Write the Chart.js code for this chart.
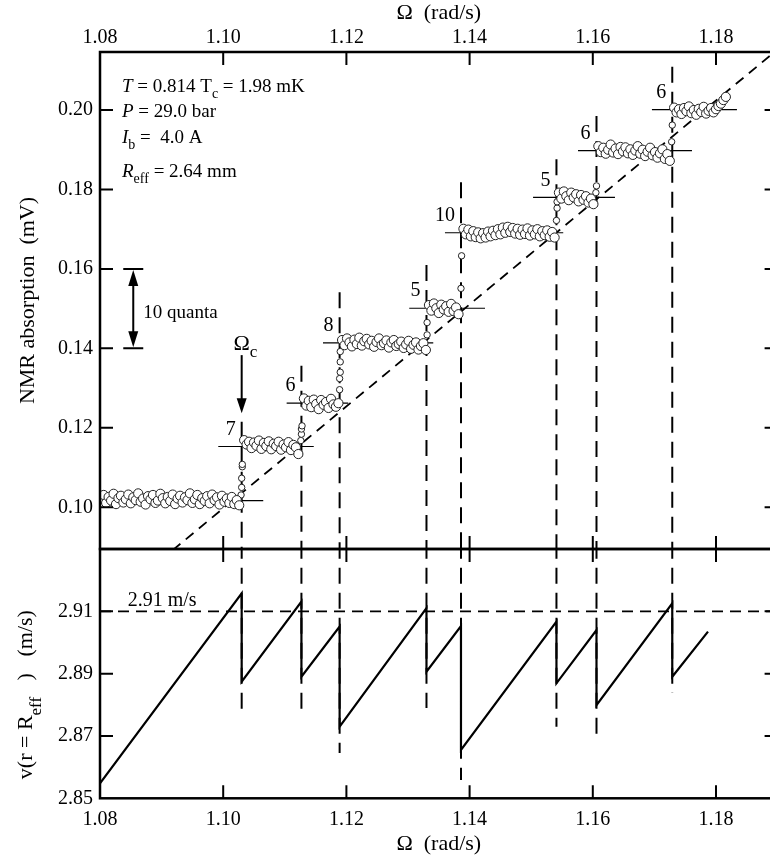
<!DOCTYPE html>
<html>
<head>
<meta charset="utf-8">
<title>Vortex steps</title>
<script src="https://cdn.jsdelivr.net/npm/chart.js@4.4.0/dist/chart.umd.min.js"></script>
<style>
  html, body { margin: 0; padding: 0; background: #fff; overflow: hidden; }
  #wrap { position: relative; width: 770px; height: 863px; overflow: hidden; }
  canvas { position: absolute; left: 0; }
  #nmrChart { top: 0; }
  #velChart { top: 540px; }
</style>
</head>
<body>
<div id="wrap">
  <canvas id="nmrChart" width="790" height="560"></canvas>
  <canvas id="velChart" width="790" height="323"></canvas>
</div>
<script>
// measured points on the plateaus: rotation Ω (rad/s) and NMR absorption (mV)
const omega = [
  1.0802,1.0806,1.0810,1.0814,1.0818,1.0822,1.0826,1.0830,1.0834,1.0838,
  1.0842,1.0846,1.0850,1.0854,1.0858,1.0862,1.0866,1.0870,1.0874,1.0878,
  1.0882,1.0886,1.0890,1.0894,1.0898,1.0902,1.0906,1.0910,1.0914,1.0918,
  1.0922,1.0926,1.0930,1.0934,1.0938,1.0942,1.0946,1.0950,1.0954,1.0958,
  1.0962,1.0966,1.0970,1.0974,1.0978,1.0982,1.0986,1.0990,1.0994,1.0998,
  1.1002,1.1006,1.1010,1.1014,1.1018,1.1022,1.1026,
  1.1034,1.1038,1.1042,1.1046,1.1050,1.1054,1.1058,1.1062,1.1066,1.1070,
  1.1074,1.1078,1.1082,1.1086,1.1090,1.1094,1.1098,1.1102,1.1106,1.1110,
  1.1114,1.1118,1.1122,
  1.1131,1.1135,1.1139,1.1143,1.1147,1.1151,1.1155,1.1159,1.1163,1.1167,
  1.1171,1.1175,1.1179,1.1183,1.1187,
  1.1193,1.1197,1.1201,1.1205,1.1209,1.1213,1.1217,1.1221,1.1225,1.1229,
  1.1233,1.1237,1.1241,1.1245,1.1249,1.1253,1.1257,1.1261,1.1265,1.1269,
  1.1273,1.1277,1.1281,1.1285,1.1289,1.1293,1.1297,1.1301,1.1305,1.1309,
  1.1313,1.1317,1.1321,1.1325,1.1329,
  1.1334,1.1338,1.1342,1.1346,1.1350,1.1354,1.1358,1.1362,1.1366,1.1370,
  1.1374,1.1378,1.1382,
  1.1390,1.1394,1.1398,1.1402,1.1406,1.1410,1.1414,1.1418,1.1422,1.1426,
  1.1430,1.1434,1.1438,1.1442,1.1446,1.1450,1.1454,1.1458,1.1462,1.1466,
  1.1470,1.1474,1.1478,1.1482,1.1486,1.1490,1.1494,1.1498,1.1502,1.1506,
  1.1510,1.1514,1.1518,1.1522,1.1526,1.1530,1.1534,1.1538,
  1.1545,1.1549,1.1553,1.1557,1.1561,1.1565,1.1569,1.1573,1.1577,1.1581,
  1.1585,1.1589,1.1593,1.1597,1.1601,
  1.1609,1.1613,1.1617,1.1621,1.1625,1.1629,1.1633,1.1637,1.1641,1.1645,
  1.1649,1.1653,1.1657,1.1661,1.1665,1.1669,1.1673,1.1677,1.1681,1.1685,
  1.1689,1.1693,1.1697,1.1701,1.1705,1.1709,1.1713,1.1717,1.1721,1.1725,
  1.1732,1.1736,1.1740,1.1744,1.1748,1.1752,1.1756,1.1760,1.1764,1.1768,
  1.1772,1.1776,1.1780,1.1784,1.1788,1.1792,1.1796,1.1800,1.1804,1.1808,
  1.1812,1.1816
];
const nmr = [
  0.1022,0.1031,0.1011,0.1026,0.1017,0.1034,0.1008,0.1023,0.1029,0.1012,
  0.1020,0.1032,0.1010,0.1025,0.1018,0.1035,0.1014,0.1022,0.1007,0.1028,
  0.1020,0.1031,0.1011,0.1017,0.1034,0.1023,0.1010,0.1026,0.1016,0.1032,
  0.1008,0.1022,0.1029,0.1012,0.1025,0.1018,0.1035,0.1011,0.1020,0.1031,
  0.1008,0.1023,0.1016,0.1028,0.1010,0.1032,0.1018,0.1025,0.1007,0.1029,
  0.1014,0.1022,0.1011,0.1026,0.1008,0.1018,0.1005,
  0.1169,0.1158,0.1165,0.1149,0.1163,0.1155,0.1168,0.1147,0.1162,0.1154,
  0.1166,0.1146,0.1160,0.1154,0.1165,0.1145,0.1158,0.1151,0.1164,0.1144,
  0.1157,0.1151,0.1134,
  0.1274,0.1256,0.1268,0.1252,0.1271,0.1260,0.1247,0.1270,0.1258,0.1265,
  0.1250,0.1273,0.1259,0.1253,0.1262,
  0.1421,0.1408,0.1425,0.1415,0.1405,0.1422,0.1411,0.1427,0.1407,0.1418,
  0.1424,0.1410,0.1419,0.1404,0.1416,0.1425,0.1408,0.1413,0.1420,0.1402,
  0.1415,0.1421,0.1406,0.1411,0.1417,0.1401,0.1410,0.1419,0.1399,0.1409,
  0.1415,0.1397,0.1406,0.1413,0.1396,
  0.1509,0.1495,0.1513,0.1501,0.1489,0.1510,0.1498,0.1506,0.1492,0.1512,
  0.1494,0.1503,0.1486,
  0.1701,0.1687,0.1699,0.1682,0.1695,0.1680,0.1692,0.1677,0.1690,0.1679,
  0.1694,0.1682,0.1696,0.1685,0.1700,0.1687,0.1704,0.1691,0.1706,0.1693,
  0.1703,0.1689,0.1701,0.1686,0.1699,0.1688,0.1702,0.1684,0.1697,0.1687,
  0.1700,0.1682,0.1695,0.1685,0.1697,0.1681,0.1693,0.1679,
  0.1792,0.1777,0.1795,0.1783,0.1773,0.1792,0.1780,0.1788,0.1770,0.1786,
  0.1774,0.1783,0.1767,0.1777,0.1763,
  0.1909,0.1894,0.1905,0.1890,0.1900,0.1913,0.1893,0.1903,0.1889,0.1907,
  0.1896,0.1906,0.1891,0.1901,0.1887,0.1898,0.1909,0.1890,0.1900,0.1884,
  0.1895,0.1905,0.1886,0.1894,0.1880,0.1891,0.1901,0.1877,0.1889,0.1872,
  0.2006,0.1994,0.2002,0.1990,0.2005,0.1997,0.2009,0.1992,0.2000,0.1988,
  0.2003,0.1995,0.2008,0.1991,0.1998,0.2005,0.1994,0.2002,0.2010,0.2016,
  0.2025,0.2033
];

// points recorded while the signal was still climbing after a jump
const riseOmega = [1.1029,1.1030,1.1030,1.1031,1.1031, 1.1126,1.1127,1.1127,1.1128,
  1.1189,1.1189,1.1190,1.1190,1.1190, 1.1331,1.1331, 1.1386,1.1387,
  1.1541,1.1542,1.1542, 1.1605,1.1606, 1.1728,1.1729];
const riseNmr = [0.1031,0.1050,0.1073,0.1102,0.1108, 0.1168,0.1184,0.1197,0.1205,
  0.1296,0.1324,0.1340,0.1366,0.1392, 0.1434,0.1465, 0.1551,0.1633,
  0.1722,0.1753,0.1769, 0.1792,0.1809, 0.1920,0.1962];

// plateau levels and the span of their marker lines
const levelNmr  = [0.1017, 0.1153, 0.1262, 0.1414, 0.1501, 0.1691, 0.1780, 0.1898, 0.2001];
const levelFrom = [1.0800, 1.0992, 1.1103, 1.1162, 1.1302, 1.1360, 1.1503, 1.1576, 1.1696];
const levelTo   = [1.1065, 1.1147, 1.1203, 1.1341, 1.1425, 1.1552, 1.1636, 1.1761, 1.1834];

// vortex entry jumps
const jumpOmega  = [1.1030, 1.1127, 1.1189, 1.1330, 1.1386, 1.1541, 1.1606, 1.1729];
const quanta     = [7, 6, 8, 5, 10, 5, 6, 6];
const dashTopNmr = [0.1215, 0.1356, 0.1541, 0.1610, 0.1818, 0.1876, 0.1985, 0.2109];
const dashEndV   = [2.8783, 2.8767, 2.8645, 2.8790, 2.8559, 2.8730, 2.8687, 2.8838];

// vortex-free line through the jump bottoms
const diagOmega = [1.0918, 1.1895];
const diagNmr   = [0.0892, 0.2146];

// Ω_c arrow and the 10-quanta scale bar
const arrowNmr = [0.1383, 0.1237];
const barOmega = 1.0854;
const barNmr   = [0.14, 0.16];

// flow velocity at r = R_eff (m/s)
const sawOmega = [1.0800, 1.1030, 1.1030, 1.1127, 1.1127, 1.1189, 1.1189, 1.1330, 1.1330,
  1.1386, 1.1386, 1.1541, 1.1541, 1.1606, 1.1606, 1.1729, 1.1729, 1.1787];
const sawV = [2.8548, 2.9158, 2.8874, 2.9131, 2.8890, 2.9051, 2.8730, 2.9110, 2.8906,
  2.9053, 2.8655, 2.9067, 2.8869, 2.9040, 2.8799, 2.9126, 2.8890, 2.9035];
const vCrit = 2.91;

const FAMILY = '"Liberation Serif", "Times New Roman", serif';
Chart.defaults.font.family = FAMILY;
Chart.defaults.color = '#000';

const onStep = (v, k) => Math.abs(v * k - Math.round(v * k)) < 1e-6;
const pts = (xs, ys) => xs.map((x, i) => ({x: x, y: ys[i]}));

function drawRich(ctx, x, y, runs, size, align, subShift) {
  const shift = subShift || size * 0.3;
  const fontOf = r => (r.it ? 'italic ' : '') + (r.sub ? Math.round(size * 0.75) : size) + 'px ' + FAMILY;
  let w = 0;
  runs.forEach(r => { ctx.font = fontOf(r); w += ctx.measureText(r.t).width; });
  let cx = align === 'center' ? x - w / 2 : (align === 'right' ? x - w : x);
  ctx.textAlign = 'left';
  runs.forEach(r => {
    ctx.font = fontOf(r);
    ctx.fillText(r.t, cx, r.sub ? y + shift : y);
    cx += ctx.measureText(r.t).width;
  });
}

// box frame with inward ticks on all four sides
function frameTicks(yMajor) {
  return {
    id: 'frameTicks',
    afterDraw(chart) {
      const ctx = chart.ctx, a = chart.chartArea;
      const xs = chart.scales.x, ys = chart.scales.y;
      ctx.save();
      ctx.strokeStyle = '#000';
      ctx.lineWidth = 2;
      ctx.beginPath();
      xs.ticks.forEach(t => {
        const px = xs.getPixelForValue(t.value);
        if (px <= a.left + 1 || px >= a.right - 1) return;
        const len = onStep(t.value, 50) ? 13 : 8;
        ctx.moveTo(px, a.top); ctx.lineTo(px, a.top + len);
        ctx.moveTo(px, a.bottom); ctx.lineTo(px, a.bottom - len);
      });
      ys.ticks.forEach(t => {
        const py = ys.getPixelForValue(t.value);
        if (py <= a.top + 1 || py >= a.bottom - 1) return;
        const len = yMajor(t.value) ? 13 : 8;
        ctx.moveTo(a.left, py); ctx.lineTo(a.left + len, py);
        ctx.moveTo(a.right, py); ctx.lineTo(a.right - len, py);
      });
      ctx.stroke();
      ctx.lineWidth = 2.5;
      ctx.strokeRect(a.left, a.top, a.right - a.left, a.bottom - a.top);
      ctx.restore();
    }
  };
}

const nmrNotes = {
  id: 'nmrNotes',
  afterDatasetsDraw(chart) {
    const ctx = chart.ctx, a = chart.chartArea;
    const x = chart.scales.x, y = chart.scales.y;
    ctx.save();
    ctx.fillStyle = '#000';
    ctx.strokeStyle = '#000';

    // number of quanta entering at each jump
    ctx.font = '20px ' + FAMILY;
    ctx.textAlign = 'right';
    ctx.textBaseline = 'middle';
    quanta.forEach((n, i) => {
      ctx.fillText(String(n), x.getPixelForValue(jumpOmega[i]) - 6, y.getPixelForValue(levelNmr[i + 1]) - 17);
    });

    // Ω_c arrow
    const ax = x.getPixelForValue(jumpOmega[0]);
    const ay0 = y.getPixelForValue(arrowNmr[0]), ay1 = y.getPixelForValue(arrowNmr[1]);
    ctx.lineWidth = 2;
    ctx.beginPath(); ctx.moveTo(ax, ay0); ctx.lineTo(ax, ay1 - 10); ctx.stroke();
    ctx.beginPath(); ctx.moveTo(ax, ay1); ctx.lineTo(ax - 5, ay1 - 15); ctx.lineTo(ax + 5, ay1 - 15); ctx.closePath(); ctx.fill();
    ctx.textBaseline = 'alphabetic';
    ctx.font = '22px ' + FAMILY;
    const omW = ctx.measureText('Ω').width;
    drawRich(ctx, ax - omW / 2, ay0 - 5, [{t: 'Ω'}, {t: 'c', sub: true}], 22, 'left');

    // 10 quanta scale bar
    const bx = x.getPixelForValue(barOmega);
    const by0 = y.getPixelForValue(barNmr[0]), by1 = y.getPixelForValue(barNmr[1]);
    ctx.lineWidth = 2;
    ctx.beginPath();
    ctx.moveTo(bx - 10, by0); ctx.lineTo(bx + 10, by0);
    ctx.moveTo(bx - 10, by1); ctx.lineTo(bx + 10, by1);
    ctx.moveTo(bx, by1 + 12); ctx.lineTo(bx, by0 - 12);
    ctx.stroke();
    ctx.beginPath(); ctx.moveTo(bx, by1 + 1); ctx.lineTo(bx - 5, by1 + 17); ctx.lineTo(bx + 5, by1 + 17); ctx.closePath(); ctx.fill();
    ctx.beginPath(); ctx.moveTo(bx, by0 - 1); ctx.lineTo(bx - 5, by0 - 17); ctx.lineTo(bx + 5, by0 - 17); ctx.closePath(); ctx.fill();
    ctx.font = '19px ' + FAMILY;
    ctx.textAlign = 'left';
    ctx.textBaseline = 'middle';
    ctx.fillText('10 quanta', bx + 10, (by0 + by1) / 2 + 4);

    // run parameters
    ctx.textBaseline = 'alphabetic';
    const tx = a.left + 22;
    drawRich(ctx, tx, a.top + 40, [{t: 'T', it: true}, {t: ' = 0.814 T'}, {t: 'c', sub: true}, {t: ' = 1.98 mK'}], 19, 'left');
    drawRich(ctx, tx, a.top + 65, [{t: 'P', it: true}, {t: ' = 29.0 bar'}], 19, 'left');
    drawRich(ctx, tx, a.top + 91, [{t: 'I', it: true}, {t: 'b', sub: true}, {t: ' =  4.0 A'}], 19, 'left');
    drawRich(ctx, tx, a.top + 125, [{t: 'R', it: true}, {t: 'eff', sub: true}, {t: ' = 2.64 mm'}], 19, 'left');
    ctx.restore();
  }
};

const velNotes = {
  id: 'velNotes',
  afterDatasetsDraw(chart) {
    const ctx = chart.ctx;
    const x = chart.scales.x, y = chart.scales.y;
    ctx.save();
    ctx.fillStyle = '#000';
    ctx.font = '20px ' + FAMILY;
    ctx.textAlign = 'left';
    ctx.textBaseline = 'alphabetic';
    ctx.fillText('2.91 m/s', x.getPixelForValue(1.0845), y.getPixelForValue(vCrit) - 5);
    ctx.restore();
  },
  afterDraw(chart) {
    const ctx = chart.ctx, a = chart.chartArea;
    ctx.save();
    ctx.fillStyle = '#000';
    ctx.translate(26, (a.top + a.bottom) / 2 + 21);
    ctx.rotate(-Math.PI / 2);
    ctx.textBaseline = 'middle';
    drawRich(ctx, 0, 0, [{t: 'v(r = R'}, {t: 'eff', sub: true}, {t: '   )   (m/s)'}], 22, 'center', 11);
    ctx.restore();
  }
};

const tickFont = {size: 20, family: FAMILY};
const titleFont = {size: 22, family: FAMILY};
const noGrid = {display: false, drawTicks: false};
const omegaTicks = (pad) => ({
  stepSize: 0.005, autoSkip: false, maxRotation: 0, padding: pad, font: tickFont,
  callback: v => onStep(v, 50) ? v.toFixed(2) : null
});
// fixed axis boxes so both panels line up exactly
const fixHeight = h => s => { s.height = h; s.paddingLeft = 0; s.paddingRight = 0; };
const fixWidth = w => s => { s.width = w; s.paddingTop = 0; s.paddingBottom = 0; };

const lineSet = (data, width, dash, order) => ({
  type: 'line', data: data, borderColor: '#000', borderWidth: width,
  borderDash: dash, pointRadius: 0, fill: false, showLine: true, order: order
});

// NMR absorption panel
const nmrSets = [
  {type: 'scatter', data: pts(omega, nmr), pointRadius: 4.6, pointBorderWidth: 1,
   pointBorderColor: '#222', pointBackgroundColor: '#fff', order: 0},
  {type: 'scatter', data: pts(riseOmega, riseNmr), pointRadius: 3.2, pointBorderWidth: 1,
   pointBorderColor: '#222', pointBackgroundColor: '#fff', order: 0},
  lineSet(pts(diagOmega, diagNmr), 1.8, [10, 7], 3)
];
levelNmr.forEach((lv, i) => {
  nmrSets.push(lineSet([{x: levelFrom[i], y: lv}, {x: levelTo[i], y: lv}], 1.2, [], 1));
});
jumpOmega.forEach((w, i) => {
  nmrSets.push(lineSet([{x: w, y: dashTopNmr[i]}, {x: w, y: 0.085}], 2, [16, 9], 2));
});

new Chart(document.getElementById('nmrChart'), {
  type: 'scatter',
  data: {datasets: nmrSets},
  options: {
    responsive: false,
    animation: false,
    events: [],
    layout: {padding: {top: 0, left: 0, right: 12.4, bottom: 11}},
    plugins: {legend: {display: false}, tooltip: {enabled: false}},
    scales: {
      x: {
        type: 'linear', position: 'top', min: 1.08, max: 1.19,
        grid: noGrid, border: {display: false},
        ticks: omegaTicks(2),
        title: {display: true, text: 'Ω  (rad/s)', font: titleFont, padding: {top: 0, bottom: 0}},
        afterFit: fixHeight(52)
      },
      y: {
        type: 'linear', position: 'left', min: 0.0895, max: 0.2146,
        grid: noGrid, border: {display: false},
        ticks: {stepSize: 0.005, autoSkip: false, padding: 7, font: tickFont,
          callback: v => onStep(v, 50) ? v.toFixed(2) : null},
        title: {display: true, text: 'NMR absorption  (mV)', font: titleFont, padding: {top: 15, bottom: 0}},
        afterFit: fixWidth(100)
      }
    }
  },
  plugins: [nmrNotes, frameTicks(v => onStep(v, 50))]
});

// velocity panel
const velSets = [
  lineSet(pts(sawOmega, sawV), 2.2, [], 0),
  lineSet([{x: 1.08, y: vCrit}, {x: 1.19, y: vCrit}], 1.6, [11, 7], 1)
];
jumpOmega.forEach((w, i) => {
  velSets.push(lineSet([{x: w, y: 2.94}, {x: w, y: dashEndV[i]}], 2, [16, 9], 2));
});

new Chart(document.getElementById('velChart'), {
  type: 'scatter',
  data: {datasets: velSets},
  options: {
    responsive: false,
    animation: false,
    events: [],
    layout: {padding: {top: 9, left: 0, right: 12.4, bottom: 0}},
    plugins: {legend: {display: false}, tooltip: {enabled: false}},
    scales: {
      x: {
        type: 'linear', position: 'bottom', min: 1.08, max: 1.19,
        grid: noGrid, border: {display: false},
        ticks: omegaTicks(9),
        title: {display: true, text: 'Ω  (rad/s)', font: titleFont, padding: {top: 0, bottom: 6}},
        afterFit: fixHeight(64.7)
      },
      y: {
        type: 'linear', position: 'left', min: 2.85, max: 2.93,
        grid: noGrid, border: {display: false},
        ticks: {stepSize: 0.005, autoSkip: false, padding: 7, font: tickFont,
          callback: v => (onStep(v, 100) && Math.round(v * 100) % 2 === 1 && v < 2.925) ? v.toFixed(2) : null},
        afterFit: fixWidth(100)
      }
    }
  },
  plugins: [velNotes, frameTicks(v => onStep(v, 100))]
});
</script>
</body>
</html>
